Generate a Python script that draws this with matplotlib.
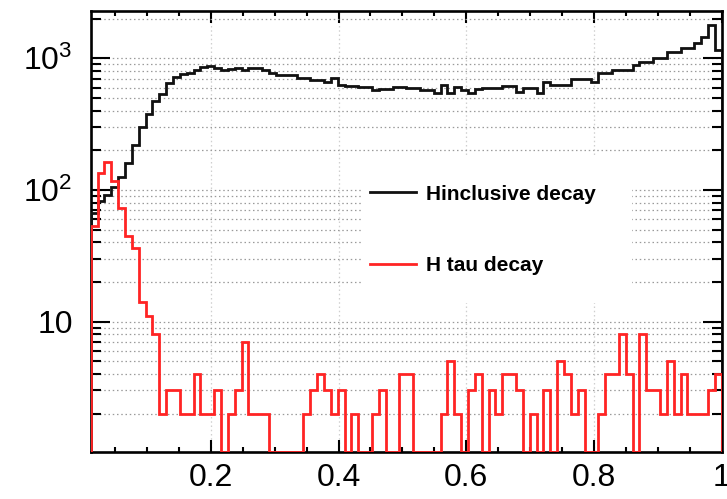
import matplotlib as mpl
import matplotlib.pyplot as plt
import numpy as np
from matplotlib.lines import Line2D
from matplotlib.patches import Rectangle
from matplotlib.ticker import FixedLocator, FuncFormatter, LogLocator, MultipleLocator, NullFormatter

mpl.rcParams.update({
    "font.family": "Liberation Sans",
    "mathtext.fontset": "custom",
    "mathtext.rm": "Liberation Sans",
    "mathtext.default": "regular",
})

# ── histogram binning ─────────────────────────────────────────────
X_MIN, X_MAX = 0.012, 1.0
N_BINS = 92
Y_MIN, Y_MAX = 1.02, 2290

# entries per bin, inclusive Higgs decays
inclusive_counts = np.array([
    67, 83, 92, 106, 125, 160, 220, 300, 375, 470,
    540, 646, 718, 760, 778, 815, 854, 874, 840, 815,
    830, 840, 815, 840, 840, 815, 770, 747, 747, 747,
    705, 705, 685, 685, 665, 705, 627, 616, 616, 603,
    603, 575, 582, 582, 603, 603, 592, 592, 575, 575,
    548, 627, 548, 603, 575, 548, 582, 592, 592, 592,
    616, 616, 558, 592, 592, 548, 665, 627, 627, 627,
    693, 693, 693, 665, 770, 770, 815, 815, 815, 890,
    943, 943, 1000, 1000, 1123, 1123, 1190, 1190, 1300, 1460,
    1790, 1155,
])

# entries per bin, H -> tau decays
tau_counts = np.array([
    53, 134, 164, 116, 73, 45, 36, 14, 11, 8,
    2, 3, 3, 2, 2, 4, 2, 2, 3, 0,
    2, 3, 7, 2, 2, 2, 0, 0, 0, 0,
    0, 2, 3, 4, 3, 2, 3, 0, 2, 0,
    0, 2, 3, 0, 0, 4, 4, 0, 0, 0,
    0, 2, 5, 2, 0, 3, 4, 0, 3, 2,
    4, 4, 3, 0, 2, 0, 3, 0, 5, 4,
    2, 3, 0, 0, 2, 4, 4, 8, 4, 0,
    8, 3, 3, 2, 5, 2, 4, 2, 2, 2,
    3, 4,
])

x_ticks = [0.2, 0.4, 0.6, 0.8, 1.0]
x_tick_labels = ["0.2", "0.4", "0.6", "0.8", "1"]
y_tick_labels = {10: "10", 100: "$10^{2}$", 1000: "$10^{3}$"}

edges = np.linspace(X_MIN, X_MAX, N_BINS + 1)

fig = plt.figure(figsize=(7.27, 4.99), dpi=100)
ax = fig.add_axes([0.1248, 0.0942, 0.868, 0.8838])

# empty bins sit on the frame floor, like a ROOT log plot
def floor_empty(counts):
    return np.where(counts > 0, counts, Y_MIN)

ax.stairs(floor_empty(inclusive_counts), edges, baseline=Y_MIN,
          color="#111111", linewidth=2.0, zorder=3)
ax.stairs(floor_empty(tau_counts), edges, baseline=Y_MIN,
          color="#ff2424", linewidth=2.0, zorder=3)

ax.set_yscale("log")
ax.set_xlim(X_MIN, X_MAX)
ax.set_ylim(Y_MIN, Y_MAX)

ax.xaxis.set_major_locator(FixedLocator(x_ticks))
ax.xaxis.set_minor_locator(MultipleLocator(0.05))
ax.set_xticklabels(x_tick_labels)
ax.yaxis.set_major_locator(FixedLocator(list(y_tick_labels)))
ax.yaxis.set_major_formatter(FuncFormatter(lambda v, _: y_tick_labels.get(int(round(v)), "")))
ax.yaxis.set_minor_locator(LogLocator(base=10, subs=np.arange(2, 10), numticks=20))
ax.yaxis.set_minor_formatter(NullFormatter())

ax.tick_params(axis="both", which="both", direction="in", top=True, right=True,
               width=1.5, colors="black", labelsize=23)
ax.tick_params(axis="x", which="major", length=8.5, pad=8)
ax.tick_params(axis="x", which="minor", length=3.5)
ax.tick_params(axis="y", which="major", length=14, pad=13)
ax.tick_params(axis="y", which="minor", length=7)
for spine in ax.spines.values():
    spine.set_linewidth(1.9)

# dotted grid: every log decade step, vertical only at labelled x
ax.set_axisbelow(True)
ax.grid(axis="y", which="both", linestyle=(0, (1.2, 2.2)), color="#9a9a9a", linewidth=0.9)
ax.grid(axis="x", which="major", linestyle=(0, (1.2, 2.2)), color="#cfcfcf", linewidth=0.9)

# white legend pad hides the grid behind the entries
ax.add_patch(Rectangle((0.43, 0.338), 0.428, 0.331, transform=ax.transAxes,
                       facecolor="white", edgecolor="none", zorder=1))

handles = [Line2D([], [], color="#111111", linewidth=2.0),
           Line2D([], [], color="#ff2424", linewidth=2.0)]
ax.legend(handles, ["Hinclusive decay", "H tau decay"], loc="upper left",
          bbox_to_anchor=(0.4426, 0.606), frameon=False, borderpad=0,
          borderaxespad=0, handlelength=2.2, handletextpad=0.5,
          labelspacing=2.5, prop={"weight": "bold", "size": 15})

fig.savefig("out.png", dpi=100)
